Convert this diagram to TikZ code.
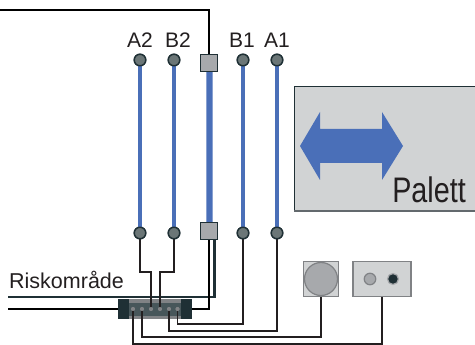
\documentclass[tikz,border=0pt]{standalone}
\usepackage{fontspec}
\setmainfont{Liberation Sans}
\definecolor{ink}{HTML}{231F20}
\definecolor{teal}{HTML}{1F3035}
\definecolor{bluebar}{HTML}{4A6FB8}
\definecolor{pale}{HTML}{D1D3D4}
\definecolor{midgray}{HTML}{A7A9AC}
\definecolor{edgegray}{HTML}{808285}
\definecolor{termfill}{HTML}{6B7677}
\definecolor{connmid}{HTML}{47565A}
\tikzset{
  terminal/.style={circle,draw=teal,line width=1.4pt,fill=termfill,minimum size=11.5pt,inner sep=0pt},
  valve/.style={rectangle,draw=teal,line width=1.3pt,fill=midgray,minimum size=17.5pt,inner sep=0pt},
  bar/.style={draw=bluebar,line width=3.4pt},
  thickbar/.style={draw=bluebar!65,line width=7pt},
  wire/.style={draw=ink,line width=1.4pt},
  heavy/.style={draw=black,line width=2.2pt},
  heavyteal/.style={draw=teal,line width=2.2pt},
  label/.style={font=\fontsize{21}{21}\selectfont,text=ink,inner sep=0pt,anchor=base},
  pin/.style={circle,fill=edgegray,minimum size=4pt,inner sep=0pt},
  block/.style={rectangle,fill=teal,draw=none,minimum width=11pt,minimum height=20pt,inner sep=0pt},
  device/.style={rectangle,draw=edgegray,line width=1.3pt,fill=pale,inner sep=0pt}
}
\usetikzlibrary{calc}
\begin{document}
\begin{tikzpicture}[x=1pt,y=-1pt]
\useasboundingbox (0,0) rectangle (475,345);
% palette
\node[rectangle,fill=pale,draw=none,minimum width=181pt,minimum height=124pt,inner sep=0pt,anchor=north west] (palette) at (294,87) {};
\draw[teal,line width=1pt] (475,87) -- (294,87) -- (294,211);
\draw[edgegray!70!teal,line width=1.3pt] (294,211) -- (475,211);
\fill[bluebar] (300,146) -- (320,112) -- (320,129) -- (382,129) -- (382,112) -- (403,146) -- (382,180) -- (382,163) -- (320,163) -- (320,180) -- cycle;
\node[font=\fontsize{35.5}{35.5}\selectfont,text=ink,inner sep=0pt,anchor=base east,xscale=0.81] (palett) at (466,203) {Palett};
% terminals
\node[terminal] (a2t) at (140,60) {};
\node[terminal] (b2t) at (174,60) {};
\node[terminal] (b1t) at (243,60) {};
\node[terminal] (a1t) at (277,60) {};
\node[terminal] (a2b) at (140,233) {};
\node[terminal] (b2b) at (174,233) {};
\node[terminal] (b1b) at (243,233) {};
\node[terminal] (a1b) at (277,233) {};
\node[valve] (vt) at (209,63) {};
\node[valve] (vb) at (209,231) {};
% labels
\node[label] (la2) at (140,48) {A2};
\node[label] (lb2) at (178,48) {B2};
\node[label] (lb1) at (242,48) {B1};
\node[label] (la1) at (277,48) {A1};
\node[label,anchor=base west,font=\fontsize{21.5}{21.5}\selectfont] (risk) at (9,288) {Riskområde};
% connector
\node[rectangle,fill=edgegray,minimum width=52pt,minimum height=20pt,inner sep=0pt] (conn) at (155,309) {};
\fill[connmid] (129,303) rectangle (181,316);
\node[block] (cl) at (123.5,309) {};
\node[block] (cr) at (186.5,309) {};
\node[pin] (p1) at (133,309) {};
\node[pin] (p2) at (142,309) {};
\node[pin] (p3) at (151,309) {};
\node[pin] (p4) at (160,309) {};
\node[pin] (p5) at (169,309) {};
\node[pin] (p6) at (177.5,309) {};
% devices
\node[device,minimum size=35pt] (sens) at (321,279) {};
\node[circle,draw=edgegray,line width=1.2pt,fill=midgray,minimum size=33pt,inner sep=0pt] (senc) at (321,279) {};
\node[device,minimum width=58pt,minimum height=35pt] (ctrl) at (382,279) {};
\node[circle,draw=edgegray,line width=1.2pt,fill=midgray,minimum size=11.5pt,inner sep=0pt] (led1) at (370,279) {};
\node[circle,draw=midgray,line width=1.2pt,fill=teal,minimum size=11pt,inner sep=0pt] (led2) at (393,279) {};
% free ends
\coordinate (topend) at (0,10);
\coordinate (risk1) at (8,297);
\coordinate (risk2) at (8,309);
\coordinate (vbl) at ($(vb.south)+(0,0)$);
\coordinate (vbr) at ($(vb.south)+(5.5,0)$);
% bars
\draw[bar] (a2t) -- (a2b);
\draw[bar] (b2t) -- (b2b);
\draw[bar] (b1t) -- (b1b);
\draw[bar] (a1t) -- (a1b);
\draw[thickbar] (vt) -- (vb);
\draw[bluebar,line width=5pt] (vt) -- (vb);
% wires
\draw[heavy] (topend) -| (vt.north);
\draw[heavyteal] (vbr) |- (risk1);
\draw[heavy] (vbl) |- (cr.east);
\draw[heavy] (risk2) -- (cl.west);
\draw[wire] (a2b.south) |- (151,272) -- (p3.center);
\draw[wire] (b2b.south) |- (160,272) -- (p4.center);
\draw[wire] (p1.center) |- (382,344) -- (ctrl.south -| 382,0);
\draw[wire] (p2.center) |- (321,337) -- (sens.south);
\draw[wire] (p5.center) |- (277,331) -- (a1b.south);
\draw[wire] (p6.center) |- (243,324) -- (b1b.south);
\node[pin] at (p1) {};
\node[pin] at (p2) {};
\node[pin] at (p3) {};
\node[pin] at (p4) {};
\node[pin] at (p5) {};
\node[pin] at (p6) {};
\node[valve] at (vt) {};
\node[valve] at (vb) {};
\node[terminal] at (a2t) {};
\node[terminal] at (b2t) {};
\node[terminal] at (b1t) {};
\node[terminal] at (a1t) {};
\node[terminal] at (a2b) {};
\node[terminal] at (b2b) {};
\node[terminal] at (b1b) {};
\node[terminal] at (a1b) {};
\end{tikzpicture}
\end{document}
